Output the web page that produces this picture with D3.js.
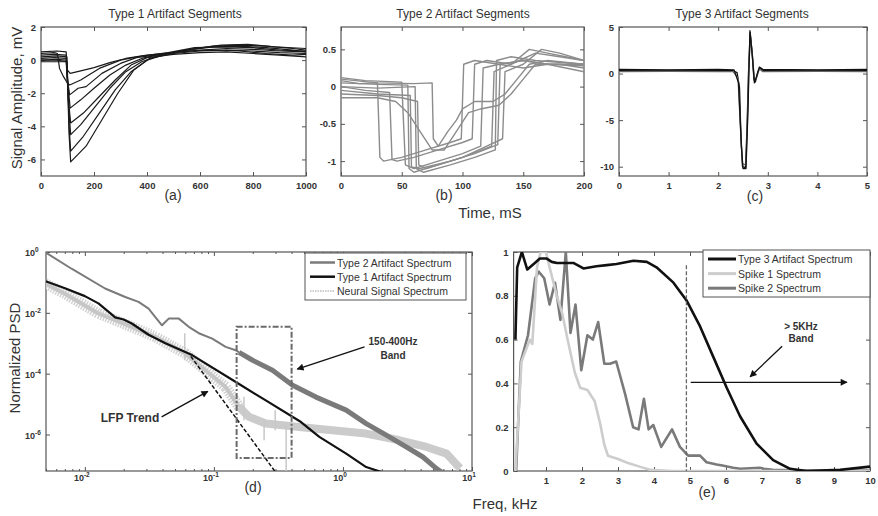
<!DOCTYPE html>
<html>
<head>
<meta charset="utf-8">
<script src="https://d3js.org/d3.v7.min.js"></script>
<style>
  body { margin: 0; background: #fff; }
  text { font-family: "Liberation Sans", Arial, sans-serif; fill: #333; }
</style>
</head>
<body>
<svg id="fig" width="878" height="516"></svg>
<script>
// ---------- panel (a): Type 1 artifact segments  [ms, mV]
const type1Segs = [
  [[0,0.1],[50,0.15],[95,0.1],[100,-0.6],[110,-0.8],[150,-0.65],[200,-0.45],[260,-0.15],[320,0.1],[400,0.3],[500,0.45],[600,0.6],[700,0.7],[800,0.65],[900,0.55],[1000,0.5]],
  [[0,0.3],[50,0.35],[95,0.3],[100,-1.2],[108,-2.1],[140,-1.7],[170,-1.6],[230,-0.8],[300,-0.2],[360,0.15],[450,0.35],[550,0.6],[650,0.8],[750,0.85],[850,0.75],[950,0.6],[1000,0.5]],
  [[0,0.0],[60,0.05],[95,0.0],[102,-1.5],[110,-2.9],[150,-2.4],[200,-1.7],[260,-0.9],[320,-0.3],[380,0.1],[450,0.35],[550,0.55],[650,0.6],[750,0.55],[850,0.4],[950,0.3],[1000,0.35]],
  [[0,0.5],[60,0.55],[95,0.5],[105,-3],[112,-4.5],[150,-3.9],[200,-2.9],[260,-1.7],[320,-0.7],[380,-0.1],[450,0.3],[550,0.6],[650,0.85],[750,0.9],[850,0.85],[950,0.7],[1000,0.6]],
  [[0,0.2],[60,0.25],[98,0.2],[106,-4],[112,-5.5],[160,-4.6],[220,-3.2],[280,-1.8],[340,-0.7],[400,0.0],[480,0.4],[580,0.7],[680,0.9],[780,0.95],[880,0.8],[1000,0.7]],
  [[0,0.0],[60,0.0],[98,-0.1],[106,-4.5],[112,-6.15],[170,-5.2],[230,-3.6],[290,-2.0],[350,-0.6],[410,0.1],[500,0.4],[600,0.55],[700,0.6],[800,0.55],[900,0.45],[1000,0.4]],
  [[0,0.4],[50,0.45],[62,0.4],[70,-0.5],[85,-1.0],[100,-1.4],[108,-1.5],[150,-1.2],[220,-0.5],[300,0.0],[380,0.25],[480,0.45],[580,0.75],[700,0.8],[800,0.75],[900,0.6],[1000,0.55]],
  [[0,-0.1],[95,-0.1],[104,-2.5],[112,-3.8],[160,-3.2],[220,-2.2],[280,-1.2],[340,-0.3],[400,0.15],[500,0.35],[600,0.45],[700,0.5],[800,0.4],[900,0.3],[1000,0.2]]
];
const aXTicks = [0, 200, 400, 600, 800, 1000];
const aYTicks = [-6, -4, -2, 0, 2];

// ---------- panel (b): Type 2 artifact segments  [ms, mV]
const type2Segs = [
  [[0,0.08],[15,0.04],[30,0.05],[32,-0.95],[35,-1.0],[50,-0.95],[70,-0.85],[90,-0.75],[99,-0.7],[101,0.3],[110,0.35],[130,0.3],[150,0.35],[170,0.3],[200,0.28]],
  [[0,0.0],[20,-0.05],[40,-0.08],[42,-0.98],[46,-1.0],[60,-0.95],[80,-0.85],[100,-0.75],[108,-0.7],[110,0.3],[120,0.35],[140,0.3],[160,0.45],[180,0.4],[200,0.35]],
  [[0,0.12],[20,0.08],[50,0.06],[53,-1.05],[60,-1.1],[80,-1.0],[100,-0.9],[115,-0.8],[117,0.25],[130,0.3],[150,0.25],[170,0.3],[200,0.2]],
  [[0,0.05],[30,0.03],[55,0.02],[56,-1.1],[60,-1.15],[80,-1.05],[100,-0.95],[124,-0.8],[126,0.2],[140,0.3],[155,0.5],[170,0.45],[185,0.4],[200,0.35]],
  [[0,-0.05],[30,-0.1],[57,-0.12],[58,-1.08],[65,-1.1],[90,-1.0],[110,-0.9],[129,-0.78],[131,0.3],[150,0.35],[170,0.3],[200,0.3]],
  [[0,-0.1],[30,-0.12],[50,-0.15],[63,-0.2],[64,-1.05],[70,-1.1],[100,-0.95],[120,-0.8],[133,-0.7],[135,0.2],[150,0.3],[165,0.5],[180,0.45],[200,0.35]],
  [[0,0.1],[30,0.05],[60,0.04],[75,0.05],[76,-0.7],[80,-0.8],[88,-0.6],[95,-0.45],[100,-0.3],[110,-0.2],[125,-0.2],[135,-0.1],[145,0.1],[155,0.3],[170,0.35],[200,0.3]],
  [[0,-0.15],[30,-0.15],[45,-0.2],[55,-0.35],[65,-0.6],[75,-0.85],[85,-0.85],[95,-0.6],[105,-0.35],[115,-0.3],[130,-0.25],[140,-0.1],[150,0.1],[160,0.3],[180,0.3],[200,0.25]],
  [[0,0.0],[30,-0.02],[61,0.0],[62,-1.1],[68,-1.15],[90,-1.05],[110,-0.95],[127,-0.85],[128,0.35],[140,0.4],[160,0.35],[200,0.3]]
];
const bXTicks = [0, 50, 100, 150, 200];
const bYTicks = [-1, -0.5, 0, 0.5];

// ---------- panel (c): Type 3 artifact segments  [ms, mV]
const type3Segs = [
  [[0,0.35],[1,0.35],[2,0.35],[2.3,0.3],[2.38,0.1],[2.43,-1.5],[2.46,-7],[2.49,-10],[2.55,-10.1],[2.58,-6],[2.61,0],[2.645,4.4],[2.68,2.5],[2.72,-0.6],[2.75,-0.9],[2.8,0.2],[2.84,0.6],[2.9,0.35],[4,0.35],[5,0.35]],
  [[0,0.2],[1,0.25],[2,0.2],[2.3,0.2],[2.4,-0.5],[2.45,-6],[2.49,-9.7],[2.56,-9.8],[2.59,-5],[2.62,1],[2.65,3.9],[2.69,2],[2.73,-0.8],[2.77,-0.5],[2.83,0.5],[2.9,0.2],[4,0.25],[5,0.2]],
  [[0,0.45],[1,0.4],[2,0.45],[2.32,0.4],[2.41,-1],[2.47,-8],[2.5,-10.2],[2.56,-10.2],[2.6,-4],[2.64,4.6],[2.69,1.8],[2.73,-1.0],[2.78,-0.2],[2.83,0.7],[2.9,0.45],[4,0.4],[5,0.45]]
];
const cXTicks = [0, 1, 2, 3, 4, 5];
const cYTicks = [-10, -5, 0, 5];

// ---------- panel (d): spectra  [log10 kHz, log10 PSD]
const type2Spec = [[-2.31,0],[-2.103,-0.55],[-1.843,-1.2],[-1.687,-1.48],[-1.584,-1.64],[-1.506,-1.86],[-1.454,-2.14],[-1.402,-2.41],[-1.35,-2.19],[-1.272,-2.19],[-1.195,-2.46],[-1.117,-2.67],[-1.013,-2.85],[-0.909,-3.12],[-0.831,-3.23],[-0.805,-3.3]];
const type2SpecNoisy = [[-0.805,-3.3],[-0.7,-3.56],[-0.546,-3.89],[-0.39,-4.38],[-0.209,-4.77],[0.025,-5.2],[0.18,-5.64],[0.336,-6.02],[0.49,-6.41],[0.62,-6.74],[0.725,-7.12],[0.767,-7.24]];
const type1Spec = [[-2.31,-0.95],[-2.154,-1.19],[-2.0,-1.45],[-1.895,-1.69],[-1.82,-1.95],[-1.765,-2.15],[-1.7,-2.22],[-1.636,-2.35],[-1.506,-2.72],[-1.376,-3.0],[-1.169,-3.39],[-0.805,-4.34],[-0.598,-4.88],[-0.325,-5.59],[-0.183,-6.08],[0.025,-6.63],[0.18,-7.07],[0.31,-7.25]];
const neuralSpecLow = [[-2.31,-1.03],[-2.154,-1.37],[-1.895,-2.02],[-1.636,-2.46],[-1.454,-2.79],[-1.22,-3.34],[-1.065,-3.89],[-0.909,-4.44],[-0.805,-5.09]];
const neuralSpecHigh = [[-0.805,-5.09],[-0.728,-5.42],[-0.598,-5.64],[-0.339,-5.75],[-0.082,-5.86],[0.18,-5.97],[0.44,-6.19],[0.647,-6.41],[0.803,-6.63],[0.907,-7.11]];
const neuralSpikes = [[-1.226,-2.67,-3.56],[-0.767,-4.76,-5.53],[-0.611,-5.53,-6.19],[-0.525,-5.2,-5.86],[-0.44,-5.7,-7.25]];
const lfpTrend = [[-1.179,-3.43],[-0.52,-7.25]];
const bandBox = { f: [0.15, 0.4], psd: [-6.77, -2.46] };
const dXTicks = [-2, -1, 0, 1];
const dYTicks = [0, -2, -4, -6];

// ---------- panel (e): spectra  [kHz, normalized]
const type3Spec = [[0.15,0.6],[0.2,0.93],[0.33,1.0],[0.48,0.92],[0.69,0.95],[0.83,0.97],[1.02,0.97],[1.16,0.955],[1.3,0.95],[1.76,0.95],[2.04,0.925],[2.4,0.935],[2.69,0.94],[2.96,0.945],[3.43,0.96],[3.8,0.955],[4.07,0.93],[4.54,0.86],[4.9,0.78],[5.28,0.66],[5.65,0.52],[6.02,0.38],[6.39,0.25],[6.85,0.125],[7.31,0.05],[7.78,0.01],[8.24,0.0],[9.17,0.005],[10,0.02]];
const spike1Spec = [[0.15,0.0],[0.32,0.5],[0.55,0.6],[0.62,0.58],[0.75,0.93],[0.85,1.0],[1.0,1.0],[1.1,0.93],[1.3,0.8],[1.45,0.72],[1.6,0.6],[1.8,0.45],[1.95,0.38],[2.15,0.37],[2.35,0.32],[2.5,0.22],[2.62,0.12],[2.72,0.07],[3.0,0.055],[3.3,0.035],[3.6,0.02],[3.9,0.005],[4.5,0.0],[10,0.0]];
const spike2Spec = [[0.17,0],[0.3,0.5],[0.5,0.62],[0.7,0.88],[0.8,0.91],[0.95,0.88],[1.1,0.76],[1.25,0.86],[1.4,0.69],[1.55,1.0],[1.68,0.63],[1.82,0.76],[1.98,0.46],[2.15,0.62],[2.3,0.6],[2.45,0.68],[2.62,0.49],[2.78,0.49],[2.95,0.5],[3.2,0.35],[3.42,0.2],[3.57,0.19],[3.72,0.33],[3.85,0.19],[3.98,0.21],[4.2,0.11],[4.5,0.19],[4.72,0.11],[4.95,0.07],[5.28,0.07],[5.46,0.04],[5.74,0.03],[5.9,0.025],[6.2,0.015],[6.4,0.01],[6.94,0.015],[7.05,0.01],[7.3,0.005],[8.2,0.002],[10,0.002]];
const eXTicks = [1, 2, 3, 4, 5, 6, 7, 8, 9, 10];
const eYTicks = [0, 0.2, 0.4, 0.6, 0.8, 1];
const bandCut = 4.9;

const svg = d3.select("#fig");
const axisCol = "#555";

svg.append("defs").append("marker")
  .attr("id", "head").attr("viewBox", "0 0 10 10")
  .attr("refX", 9).attr("refY", 5)
  .attr("markerWidth", 9).attr("markerHeight", 7)
  .attr("markerUnits", "userSpaceOnUse")
  .attr("orient", "auto")
  .append("path").attr("d", "M0,0L10,5L0,10z").attr("fill", "#111");

function frame(id, x, y, xt, yt, xf, yf) {
  const g = svg.append("g");
  const [x0, x1] = x.range();
  const [yb, yt0] = y.range();
  svg.select("defs").append("clipPath").attr("id", id)
    .append("rect").attr("x", x0).attr("y", yt0).attr("width", x1 - x0).attr("height", yb - yt0);
  const axes = [
    [d3.axisBottom(x).tickValues(xt).tickFormat(xf).tickSize(-4).tickPadding(6), `translate(0,${yb})`],
    [d3.axisTop(x).tickValues(xt).tickFormat("").tickSize(-4), `translate(0,${yt0})`],
    [d3.axisLeft(y).tickValues(yt).tickFormat(yf).tickSize(-4).tickPadding(5), `translate(${x0},0)`],
    [d3.axisRight(y).tickValues(yt).tickFormat("").tickSize(-4), `translate(${x1},0)`]
  ];
  axes.forEach(([ax, tr]) => {
    const a = g.append("g").attr("transform", tr).call(ax);
    a.select(".domain").remove();
    a.selectAll("line").attr("stroke", axisCol);
    a.selectAll("text").attr("font-size", 9.5).attr("font-weight", "bold")
      .attr("font-family", "'Liberation Sans', Arial, sans-serif").attr("fill", "#333");
  });
  const plot = svg.append("g").attr("clip-path", `url(#${id})`);
  return { g, plot, box: () => g.append("rect").attr("x", x0).attr("y", yt0)
    .attr("width", x1 - x0).attr("height", yb - yt0).attr("fill", "none").attr("stroke", axisCol).attr("stroke-width", 1.2) };
}

function trace(g, data, line, color, w, dash) {
  return g.append("path").datum(data).attr("d", line).attr("fill", "none")
    .attr("stroke", color).attr("stroke-width", w).attr("stroke-linejoin", "round")
    .attr("stroke-dasharray", dash || null);
}

function title(x, y, t, size, weight, anchor) {
  return svg.append("text").attr("x", x).attr("y", y).attr("font-size", size)
    .attr("font-weight", weight || "normal").attr("text-anchor", anchor || "middle").text(t);
}

const plain = d => String(d);

// ---------- (a)
const xA = d3.scaleLinear().domain([0, 1000]).range([41, 306]);
const yA = d3.scaleLinear().domain([-7, 2]).range([176, 27]);
const pa = frame("clipA", xA, yA, aXTicks, aYTicks, plain, plain);
const lineA = d3.line().x(d => xA(d[0])).y(d => yA(d[1]));
type1Segs.forEach(s => trace(pa.plot, s, lineA, "#1a1a1a", 1.2));
pa.box();

// ---------- (b)
const xB = d3.scaleLinear().domain([0, 200]).range([341, 584]);
const yB = d3.scaleLinear().domain([-1.2, 0.8]).range([176, 27]);
const pb = frame("clipB", xB, yB, bXTicks, bYTicks, plain, plain);
const lineB = d3.line().x(d => xB(d[0])).y(d => yB(d[1]));
type2Segs.forEach(s => trace(pb.plot, s, lineB, "#8c8c8c", 1.4));
pb.box();

// ---------- (c)
const xC = d3.scaleLinear().domain([0, 5]).range([619, 867]);
const yC = d3.scaleLinear().domain([-11, 5]).range([176, 27]);
const pc = frame("clipC", xC, yC, cXTicks, cYTicks, plain, plain);
const lineC = d3.line().x(d => xC(d[0])).y(d => yC(d[1]));
type3Segs.forEach((s, i) => trace(pc.plot, s, lineC, i === 1 ? "#666" : "#111", 1.3));
pc.box();

title(175, 18, "Type 1 Artifact Segments", 12);
title(463, 18, "Type 2 Artifact Segments", 12);
title(742, 18, "Type 3 Artifact Segments", 12);
title(173, 200, "(a)", 14);
title(444, 200, "(b)", 14);
title(755, 201, "(c)", 14);
title(490, 218, "Time, mS", 15);
svg.append("text").attr("transform", "translate(22,98) rotate(-90)")
  .attr("text-anchor", "middle").attr("font-size", 15).text("Signal Amplitude, mV");

// ---------- (d)
const xD = d3.scaleLog().domain([0.005, 10]).range([46, 472]);
const yD = d3.scaleLog().domain([10 ** -7.2, 1]).range([471, 252]);
const pd = frame("clipD", xD, yD, dXTicks.map(v => 10 ** v), dYTicks.map(v => 10 ** v), () => "", () => "");
// minor ticks on log x axis
const minor = xD.ticks().filter(v => !dXTicks.map(k => 10 ** k).some(k => Math.abs(k - v) < 1e-9));
[[d3.axisBottom(xD), 471], [d3.axisTop(xD), 252]].forEach(([ax, yy]) => {
  const a = pd.g.append("g").attr("transform", `translate(0,${yy})`)
    .call(ax.tickValues(minor).tickFormat("").tickSize(-2));
  a.select(".domain").remove();
  a.selectAll("line").attr("stroke", axisCol);
});
dXTicks.forEach(k => {
  const t = svg.append("text").attr("x", xD(10 ** k) - 3).attr("y", 481)
    .attr("font-size", 9).attr("font-weight", "bold").attr("text-anchor", "middle");
  t.append("tspan").text("10");
  t.append("tspan").attr("dy", -4).attr("font-size", 6.5).text(k);
});
dYTicks.forEach(k => {
  const t = svg.append("text").attr("x", 25).attr("y", yD(10 ** k) + 4)
    .attr("font-size", 9).attr("font-weight", "bold");
  t.append("tspan").text("10");
  t.append("tspan").attr("dy", -4).attr("font-size", 6.5).text(k);
});
const lineD = d3.line().x(d => xD(10 ** d[0])).y(d => yD(10 ** d[1]));
// scattered low-frequency part drawn as a broken wide band, flat part as a solid band
trace(pd.plot, neuralSpecLow, lineD, "#d2d2d2", 11, "1.5,1.2");
trace(pd.plot, neuralSpecLow, lineD, "#c6c6c6", 4);
trace(pd.plot, neuralSpecHigh, lineD, "#cbcbcb", 8);
neuralSpikes.forEach(s => pd.plot.append("line")
  .attr("x1", xD(10 ** s[0])).attr("x2", xD(10 ** s[0]))
  .attr("y1", yD(10 ** s[1])).attr("y2", yD(10 ** s[2]))
  .attr("stroke", "#c8c8c8").attr("stroke-width", 1.5));
trace(pd.plot, type2Spec, lineD, "#7a7a7a", 2);
trace(pd.plot, type2SpecNoisy, lineD, "#7a7a7a", 5);
trace(pd.plot, type1Spec, lineD, "#111", 2.2);
trace(pd.plot, lfpTrend, lineD, "#111", 1.5, "4,2");
pd.plot.append("rect")
  .attr("x", xD(bandBox.f[0])).attr("y", yD(10 ** bandBox.psd[1]))
  .attr("width", xD(bandBox.f[1]) - xD(bandBox.f[0]))
  .attr("height", yD(10 ** bandBox.psd[0]) - yD(10 ** bandBox.psd[1]))
  .attr("fill", "none").attr("stroke", "#6a6a6a").attr("stroke-width", 2)
  .attr("stroke-dasharray", "6,2,2,2");
pd.box();
// legend (d)
const legD = svg.append("g");
legD.append("rect").attr("x", 305).attr("y", 253).attr("width", 161).attr("height", 47)
  .attr("fill", "#fff").attr("stroke", axisCol).attr("stroke-width", 1);
[["Type 2 Artifact Spectrum", "#7a7a7a", 2.5, null],
 ["Type 1 Artifact Spectrum", "#111", 2.5, null],
 ["Neural Signal Spectrum", "#bdbdbd", 1.5, "1.5,1"]].forEach((e, i) => {
  const yy = 262.5 + i * 14.2;
  legD.append("line").attr("x1", 310).attr("x2", 335).attr("y1", yy).attr("y2", yy)
    .attr("stroke", e[1]).attr("stroke-width", e[2]).attr("stroke-dasharray", e[3]);
  legD.append("text").attr("x", 337).attr("y", yy + 4).attr("font-size", 10.5).text(e[0]);
});
// annotations (d)
title(393, 345, "150-400Hz", 10, "bold");
title(393, 359, "Band", 10, "bold");
svg.append("line").attr("x1", xD(10 ** 0.167)).attr("y1", yD(10 ** -3.12))
  .attr("x2", xD(10 ** -0.354)).attr("y2", yD(10 ** -3.85))
  .attr("stroke", "#111").attr("stroke-width", 1.3).attr("marker-end", "url(#head)");
title(130, 421.5, "LFP Trend", 12, "bold");
svg.append("line").attr("x1", xD(10 ** -1.405)).attr("y1", yD(10 ** -5.42))
  .attr("x2", xD(10 ** -1.047)).attr("y2", yD(10 ** -4.58))
  .attr("stroke", "#111").attr("stroke-width", 1.3).attr("marker-end", "url(#head)");
title(253, 492, "(d)", 14);
svg.append("text").attr("transform", "translate(20,358) rotate(-90)")
  .attr("text-anchor", "middle").attr("font-size", 15).text("Normalized PSD");

// ---------- (e)
const xE = d3.scaleLinear().domain([0.1, 10]).range([513.6, 870]);
const yE = d3.scaleLinear().domain([0, 1]).range([471, 252]);
const pe = frame("clipE", xE, yE, eXTicks, eYTicks, plain, d3.format("~g"));
const lineE = d3.line().x(d => xE(d[0])).y(d => yE(d[1]));
trace(pe.plot, spike2Spec, lineE, "#7a7a7a", 2.6);
trace(pe.plot, spike1Spec, lineE, "#cdcdcd", 2.6);
trace(pe.plot, type3Spec, lineE, "#111", 2.6);
pe.plot.append("line").attr("x1", xE(bandCut)).attr("x2", xE(bandCut))
  .attr("y1", yE(0.94)).attr("y2", yE(0))
  .attr("stroke", "#666").attr("stroke-width", 1.3).attr("stroke-dasharray", "4,2");
pe.box();
const legE = svg.append("g");
legE.append("rect").attr("x", 703).attr("y", 250).attr("width", 167).attr("height", 47)
  .attr("fill", "#fff").attr("stroke", axisCol).attr("stroke-width", 1);
[["Type 3 Artifact Spectrum", "#111"],
 ["Spike 1 Spectrum", "#cdcdcd"],
 ["Spike 2 Spectrum", "#7a7a7a"]].forEach((e, i) => {
  const yy = 259 + i * 14.6;
  legE.append("line").attr("x1", 708).attr("x2", 736).attr("y1", yy).attr("y2", yy)
    .attr("stroke", e[1]).attr("stroke-width", 3);
  legE.append("text").attr("x", 738).attr("y", yy + 4).attr("font-size", 10.5).text(e[0]);
});
title(801, 329.5, "> 5KHz", 10, "bold");
title(801, 341.5, "Band", 10, "bold");
svg.append("line").attr("x1", xE(7.56)).attr("y1", yE(0.57))
  .attr("x2", xE(6.67)).attr("y2", yE(0.43))
  .attr("stroke", "#111").attr("stroke-width", 1.3).attr("marker-end", "url(#head)");
svg.append("line").attr("x1", xE(5.02)).attr("y1", yE(0.405))
  .attr("x2", xE(9.36)).attr("y2", yE(0.405))
  .attr("stroke", "#111").attr("stroke-width", 1.3).attr("marker-end", "url(#head)");
title(707, 497, "(e)", 14);
title(505, 509, "Freq, kHz", 15);
</script>
</body>
</html>
